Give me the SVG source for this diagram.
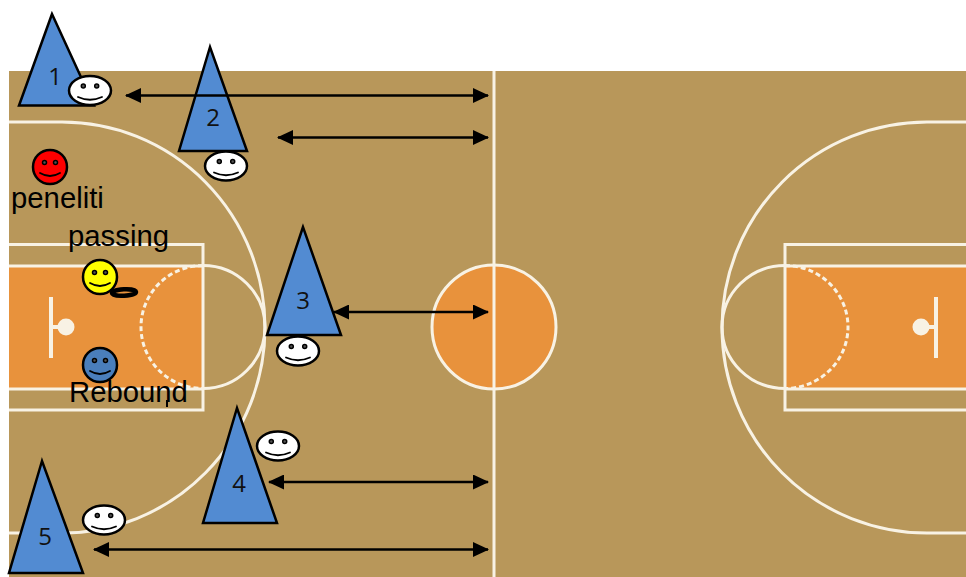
<svg xmlns="http://www.w3.org/2000/svg" width="966" height="577" viewBox="0 0 966 577">
<style>
.l{fill:none;stroke:#f8f2e4;stroke-width:3}
.t{fill:#528bd2;stroke:#000;stroke-width:2.5;stroke-linejoin:miter}
.f{stroke:#000;stroke-width:2.5}
.e{fill:#555;stroke:#000;stroke-width:1.500}
.m{fill:none;stroke:#000;stroke-width:1.800;stroke-linecap:round}
.a{stroke:#000;stroke-width:2.500;fill:none;marker-start:url(#h);marker-end:url(#h)}
.n{font-family:"Open Sans","Noto Sans",sans-serif;font-size:24px;fill:#111;text-anchor:middle}
.x{font-family:"Liberation Sans",Arial,sans-serif;font-size:29.300px;fill:#000}
</style>
<defs>
<marker id="h" viewBox="0 0 16 15" refX="15" refY="7.500" markerWidth="16" markerHeight="15" markerUnits="userSpaceOnUse" orient="auto-start-reverse"><path d="M0 0L16 7.500L0 15Z" fill="#000"/></marker>
<g id="s"><circle cx="-6.700" cy="-4.500" r="2" class="e"/><circle cx="6.700" cy="-4.500" r="2" class="e"/><path d="M-12 6.500Q0 12 12 6.500" class="m"/></g>
<g id="r"><circle cx="-5.500" cy="-4.500" r="2" class="e"/><circle cx="5.500" cy="-4.500" r="2" class="e"/><path d="M-10 6Q0 12 10 6" class="m"/></g>
</defs>
<rect width="966" height="577" fill="#fff"/>
<g id="court">
<rect x="9" y="71" width="957" height="506" fill="#b8975a"/>
<rect x="9" y="266" width="194" height="123" fill="#e8923c"/>
<rect x="785" y="266" width="181" height="123" fill="#e8923c"/>
<circle cx="494" cy="327" r="62" fill="#e8923c" stroke="#f8f2e4" stroke-width="3"/>
<path class="l" d="M494 71V577"/>
<path class="l" d="M9 122H62A203 205.500 0 0 1 62 533H9"/>
<path class="l" d="M966 122H927A205 205.500 0 0 0 927 533H966"/>
<path class="l" d="M9 244.500H203V410H9"/>
<path class="l" d="M966 244.500H785V410H966"/>
<path class="l" d="M9 266H203M9 389H203M785 266H966M785 389H966"/>
<path class="l" d="M203 265.500A62 61.500 0 0 1 203 388.500"/>
<path class="l" d="M785 265.500A63 61.500 0 0 0 785 388.500"/>
<path class="l" d="M203 265.500A62 61.500 0 0 0 203 388.500" stroke-dasharray="5 3"/>
<path class="l" d="M785 265.500A63 61.500 0 0 1 785 388.500" stroke-dasharray="5 3"/>
<path d="M51 297V358M51 327H60M936 297V358M936 327H925" stroke="#f8f2e4" stroke-width="4" fill="none"/>
<circle cx="66" cy="327" r="8.500" fill="#f8f2e4"/>
<circle cx="921" cy="327" r="8.500" fill="#f8f2e4"/>
</g>
<g id="cone1"><path class="t" d="M52 14L19 105.500H94Z"/><text class="n" x="55" y="85">1</text></g>
<g id="cone2"><path class="t" d="M210 47L179 151H247Z"/><text class="n" x="213" y="126">2</text></g>
<g id="cone3"><path class="t" d="M303 227L267 335H341Z"/><text class="n" x="303" y="309">3</text></g>
<g id="cone4"><path class="t" d="M237 408L203 523H277Z"/><text class="n" x="239" y="492">4</text></g>
<g id="cone5"><path class="t" d="M42 461L9 573H83Z"/><text class="n" x="45" y="545">5</text></g>
<g id="connectors">
<path class="a" d="M126 95.500H488"/>
<path class="a" d="M278 137.500H488"/>
<path class="a" d="M334 312H488"/>
<path class="a" d="M269 482H488"/>
<path class="a" d="M94 549.500H488"/>
</g>
<g id="player1"><ellipse class="f" cx="90" cy="90.500" rx="21" ry="14.500" fill="#fff"/><use href="#s" x="90" y="90.500"/></g>
<g id="player2"><ellipse class="f" cx="226" cy="166" rx="21" ry="14.500" fill="#fff"/><use href="#s" x="226" y="166"/></g>
<g id="player3"><ellipse class="f" cx="298" cy="351" rx="21" ry="14.500" fill="#fff"/><use href="#s" x="298" y="351"/></g>
<g id="player4"><ellipse class="f" cx="278" cy="446" rx="21" ry="14.500" fill="#fff"/><use href="#s" x="278" y="446"/></g>
<g id="player5"><ellipse class="f" cx="104" cy="520" rx="21" ry="14.500" fill="#fff"/><use href="#s" x="104" y="520"/></g>
<g id="peneliti"><circle class="f" cx="50" cy="167" r="17" fill="#f00"/><use href="#r" x="50" y="167"/><text class="x" x="11" y="208">peneliti</text></g>
<g id="passing"><circle class="f" cx="100" cy="277" r="17" fill="#ff0"/><use href="#r" x="100" y="277"/><text class="x" x="68" y="246">passing</text>
<ellipse cx="124" cy="292.500" rx="12" ry="3.200" fill="none" stroke="#000" stroke-width="4.500" transform="rotate(-3 124 292.500)"/></g>
<g id="rebound"><circle class="f" cx="100" cy="365" r="17" fill="#4a7ebb"/><use href="#r" x="100" y="365"/><text class="x" x="69" y="402">Rebound</text><path d="M167 400V407" stroke="#000" stroke-width="2"/></g>
</svg>
